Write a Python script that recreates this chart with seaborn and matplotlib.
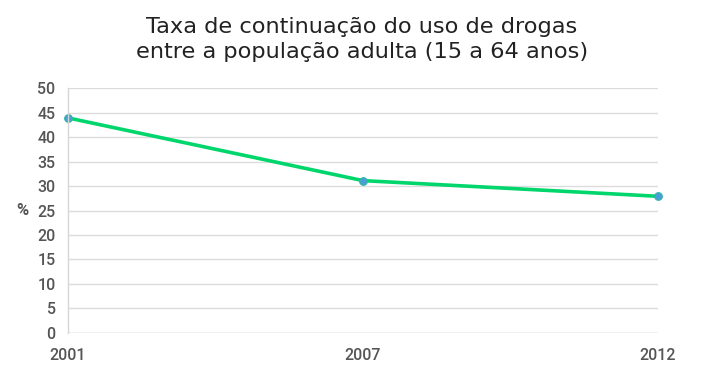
import matplotlib
matplotlib.use("Agg")
import matplotlib.pyplot as plt
import seaborn as sns
import pandas as pd

# dados
anos = ["2001", "2007", "2012"]
taxa = [43.9, 31.1, 27.9]
yticks = [0, 5, 10, 15, 20, 25, 30, 35, 40, 45, 50]

df = pd.DataFrame({"ano": anos, "taxa": taxa})

sns.set_style("white")
plt.rcParams["font.family"] = ["DejaVu Sans"]

fig = plt.figure(figsize=(7.05, 3.8), dpi=100)
ax = fig.add_axes([0.0965, 0.1237, 0.8365, 0.6447])

sns.lineplot(data=df, x="ano", y="taxa", ax=ax, color="#00d66b", linewidth=2.6,
             marker="o", markersize=5.5, markerfacecolor="#4a9ed6",
             markeredgecolor="#30b4a8", markeredgewidth=0.8, sort=False,
             clip_on=False)

ax.set_xlim(0, 2)
ax.set_ylim(0, 50)
ax.set_yticks(yticks)
ax.grid(axis="y", color="#dcdcdc", linewidth=1)
ax.set_axisbelow(True)

for s in ["top", "right", "bottom"]:
    ax.spines[s].set_visible(False)
ax.spines["left"].set_color("#d6d6d6")
ax.spines["left"].set_linewidth(1)

ax.tick_params(axis="x", length=6, width=1, color="#d6d6d6", pad=5)
ax.tick_params(axis="y", length=4, width=1, color="#d6d6d6", pad=5)
ax.axhline(0, color="#d6d6d6", linewidth=1, zorder=0)

tick_font = ["Roboto", "DejaVu Sans"]
for lab in ax.get_xticklabels() + ax.get_yticklabels():
    lab.set_family(tick_font)
    lab.set_fontsize(11.5)
    lab.set_color("#555555")
    lab.set_fontweight("medium")

ax.set_xlabel("")
ax.set_ylabel("%", rotation=0, fontsize=12, color="#555555", fontweight="bold",
              family=tick_font, labelpad=11, va="center")

fig.suptitle("Taxa de continuação do uso de drogas\nentre a população adulta (15 a 64 anos)",
             fontsize=16.2, color="#222222", x=0.513, y=0.955, linespacing=1.3)

fig.savefig("out.png", dpi=100)
